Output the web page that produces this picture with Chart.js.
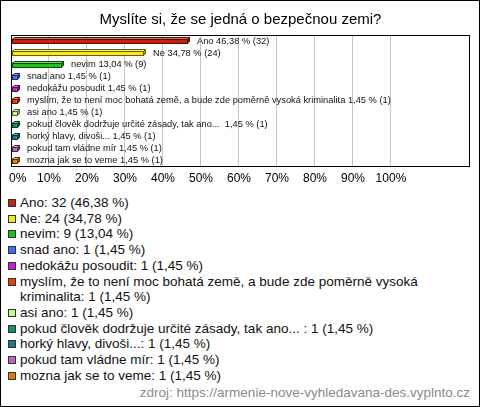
<!DOCTYPE html>
<html>
<head>
<meta charset="utf-8">
<script src="https://cdn.jsdelivr.net/npm/chart.js@4"></script>
<style>
  html, body { margin: 0; padding: 0; background: #fff; }
  #wrap { position: relative; width: 480px; height: 407px; overflow: hidden; background: #fff; }
  #frame { position: absolute; left: 0; top: 0; width: 480px; height: 407px; box-sizing: border-box; border: 1px solid #000; pointer-events: none; }
  #chart { position: absolute; left: 0; top: 0; }
  #legend { position: absolute; left: 0; top: 195px; width: 440px; font-family: "Liberation Sans", Arial, sans-serif; font-size: 13.5px; color: #111; }
  .item { position: relative; padding-left: 20px; line-height: 15.7px; white-space: pre-wrap; }
  .sw { position: absolute; left: 8px; top: 4px; width: 6px; height: 6px; border: 1px solid #333; }
  #source { position: absolute; right: 10px; top: 385px; font-family: "Liberation Sans", Arial, sans-serif; font-size: 13.5px; color: #8a8a8a; }
</style>
</head>
<body>
<div id="wrap">
  <canvas id="chart" width="480" height="194"></canvas>
  <div id="legend"></div>
  <div id="source"></div>
  <div id="frame"></div>
</div>
<script>
const titleText = 'Myslíte si, že se jedná o bezpečnou zemi?';
const categories = [
  'Ano',
  'Ne',
  'nevim',
  'snad ano',
  'nedokážu posoudit',
  'myslím, že to není moc bohatá země, a bude zde poměrně vysoká kriminalita',
  'asi ano',
  'pokud člověk dodržuje určité zásady, tak ano... ',
  'horký hlavy, divoši...',
  'pokud tam vládne mír',
  'mozna jak se to veme'
];
const counts = [32, 24, 9, 1, 1, 1, 1, 1, 1, 1, 1];
const percents = [46.38, 34.78, 13.04, 1.45, 1.45, 1.45, 1.45, 1.45, 1.45, 1.45, 1.45];
const colors = ['#c8200e', '#f7e81c', '#20c020', '#4070ee', '#c41fd0', '#e2400f', '#c8f68c', '#13905a', '#1f7a8a', '#c262c2', '#e47a10'];
const tickValues = [0, 10, 20, 30, 40, 50, 60, 70, 80, 90, 100];
const sourceText = 'zdroj: https://armenie-nove-vyhledavana-des.vyplnto.cz';

const fmt = v => v.toFixed(2).replace('.', ',');

function shade(hex, f) {
  const n = parseInt(hex.slice(1), 16);
  let r = (n >> 16) & 255, g = (n >> 8) & 255, b = n & 255;
  if (f >= 0) { r += (255 - r) * f; g += (255 - g) * f; b += (255 - b) * f; }
  else { r *= 1 + f; g *= 1 + f; b *= 1 + f; }
  return 'rgb(' + Math.round(r) + ',' + Math.round(g) + ',' + Math.round(b) + ')';
}

const barPlugin = {
  id: 'bar3d',
  afterDatasetsDraw(chart) {
    const ctx = chart.ctx;
    const meta = chart.getDatasetMeta(0);
    const d = 2;
    ctx.save();
    meta.data.forEach((el, i) => {
      const p = el.getProps(['x', 'y', 'base', 'height'], true);
      const x0 = Math.round(p.base), x1 = Math.round(p.x);
      const top = Math.round(p.y - p.height / 2), bot = top + Math.round(p.height);
      const c = colors[i];
      ctx.lineWidth = 1;
      ctx.strokeStyle = shade(c, -0.6);
      ctx.beginPath();
      ctx.moveTo(x0 + 0.5, top + 0.5);
      ctx.lineTo(x0 + d + 0.5, top - d + 0.5);
      ctx.lineTo(x1 + d + 0.5, top - d + 0.5);
      ctx.lineTo(x1 + 0.5, top + 0.5);
      ctx.closePath();
      ctx.fillStyle = shade(c, 0.35);
      ctx.fill();
      ctx.stroke();
      ctx.beginPath();
      ctx.moveTo(x1 + 0.5, top + 0.5);
      ctx.lineTo(x1 + d + 0.5, top - d + 0.5);
      ctx.lineTo(x1 + d + 0.5, bot - d + 0.5);
      ctx.lineTo(x1 + 0.5, bot + 0.5);
      ctx.closePath();
      ctx.fillStyle = shade(c, -0.35);
      ctx.fill();
      ctx.stroke();
      ctx.strokeRect(x0 + 0.5, top + 0.5, x1 - x0, bot - top);
      ctx.fillStyle = '#111';
      ctx.font = '9.3px "Liberation Sans", Arial, sans-serif';
      ctx.textBaseline = 'middle';
      ctx.textAlign = 'left';
      ctx.fillText(categories[i] + ' ' + fmt(percents[i]) + ' % (' + counts[i] + ')', x1 + 10, p.y);
    });
    ctx.restore();
  }
};

const framePlugin = {
  id: 'plotFrame',
  afterDraw(chart) {
    const a = chart.chartArea, ctx = chart.ctx;
    ctx.save();
    ctx.strokeStyle = '#000';
    ctx.lineWidth = 1;
    ctx.strokeRect(Math.round(a.left) + 0.5, Math.round(a.top) + 0.5, Math.round(a.right - a.left) - 1, Math.round(a.bottom - a.top) - 1);
    ctx.restore();
  }
};

new Chart(document.getElementById('chart'), {
  type: 'bar',
  data: {
    labels: categories,
    datasets: [{
      data: percents,
      backgroundColor: colors,
      borderWidth: 0,
      barThickness: 4,
      yAxisID: 'y'
    }]
  },
  plugins: [barPlugin, framePlugin],
  options: {
    indexAxis: 'y',
    responsive: false,
    animation: false,
    devicePixelRatio: 1,
    layout: { padding: { left: 11, right: 10, top: 0, bottom: 3 } },
    plugins: {
      legend: { display: false },
      tooltip: { enabled: false },
      title: {
        display: true,
        text: titleText,
        color: '#000',
        font: { family: '"Liberation Sans", Arial, sans-serif', size: 15, weight: 'normal' },
        padding: { top: 11, bottom: 6 }
      }
    },
    scales: {
      x: {
        min: 0,
        max: 120.8,
        afterBuildTicks: (axis) => { axis.ticks = tickValues.map(v => ({ value: v })); },
        afterFit: (scale) => { scale.paddingLeft = 0; scale.paddingRight = 0; },
        grid: { color: '#c4c4c4', drawTicks: false },
        border: { display: false },
        ticks: {
          padding: 5,
          color: '#000',
          font: { family: '"Liberation Sans", Arial, sans-serif', size: 12 },
          maxRotation: 0,
          autoSkip: false,
          callback: (v) => (v === 0 ? '    ' : '') + v + '%'
        }
      },
      y: {
        display: false,
        offset: true
      }
    }
  }
});

const legend = document.getElementById('legend');
categories.forEach((c, i) => {
  const row = document.createElement('div');
  row.className = 'item';
  const sw = document.createElement('span');
  sw.className = 'sw';
  sw.style.background = colors[i];
  row.appendChild(sw);
  row.appendChild(document.createTextNode(c + ': ' + counts[i] + ' (' + fmt(percents[i]) + ' %)'));
  legend.appendChild(row);
});
document.getElementById('source').textContent = sourceText;
</script>
</body>
</html>
